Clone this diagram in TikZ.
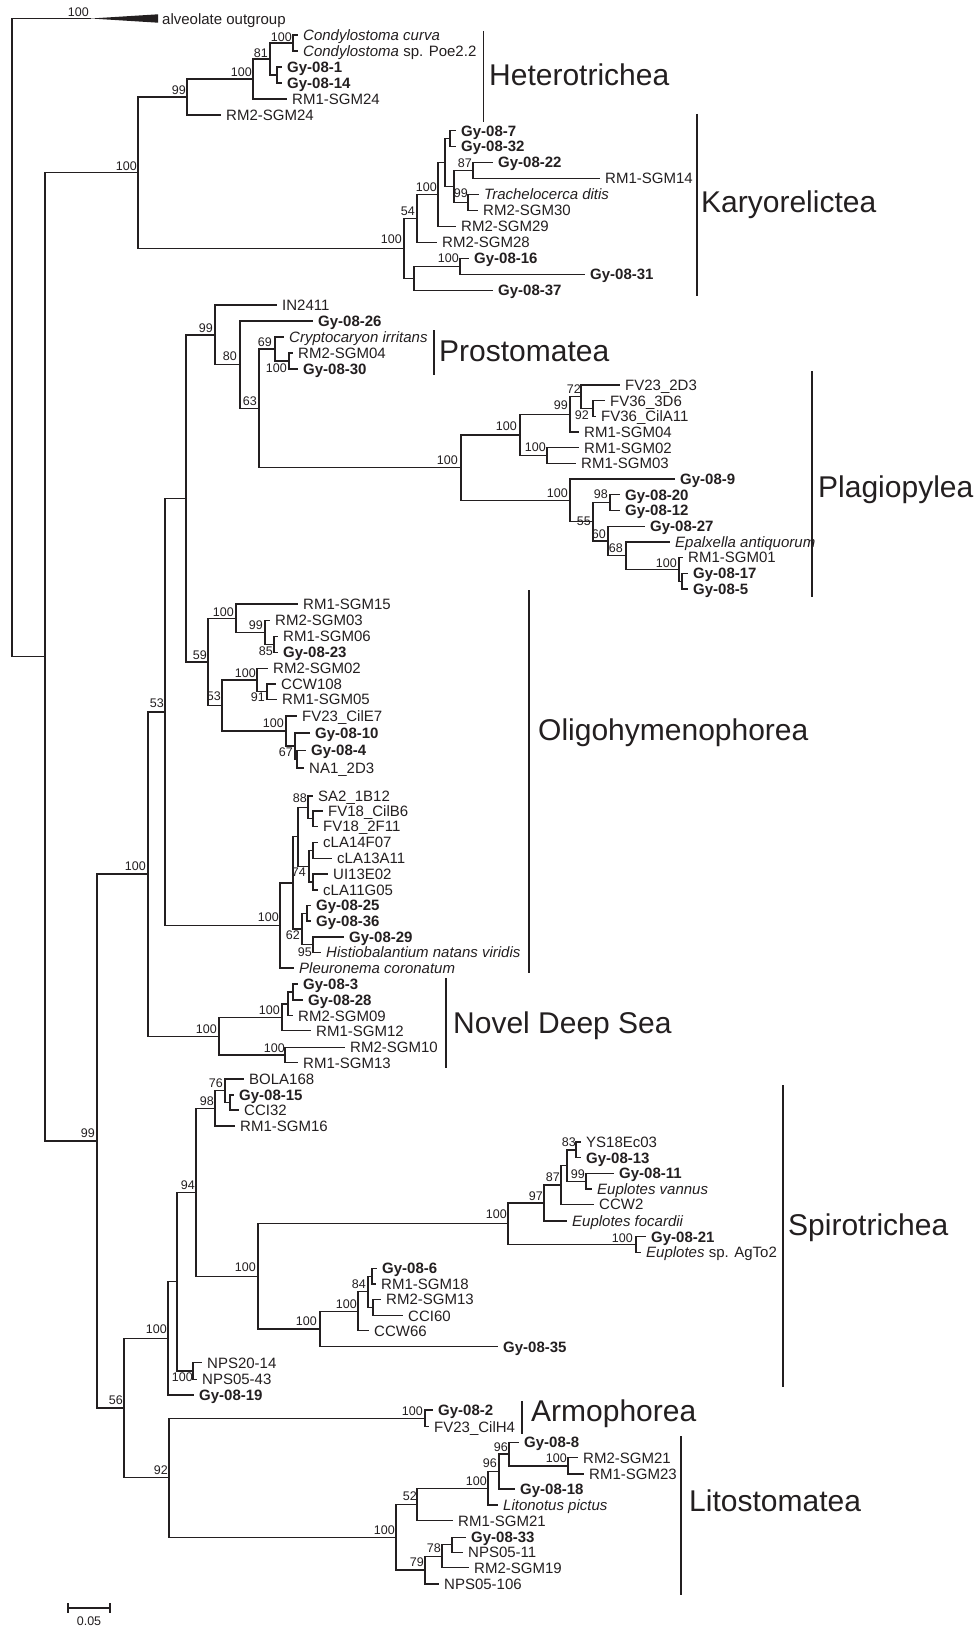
\documentclass[tikz,border=0pt]{standalone}
\usepackage{fontspec}
\setmainfont{Liberation Sans}
\definecolor{ink}{HTML}{231F20}
\newcommand\tleaf[5]{\node[leaf,#4] (#1) at ({#2-5},#3) {#5};}
\newcommand\tnd[3]{\coordinate (#1) at (#2,#3);}
\newcommand\tkids[3]{\draw[br] (#1) |- (#2); \draw[br] (#1) |- (#3);}
\newcommand\tbs[4]{\node[bs] (#1) at (#2,#3) {#4};}
\newcommand\tclade[7]{\coordinate (#1a) at (#2,#3); \coordinate (#1b) at (#2,#4);
  \draw[bar] (#1a) -- (#1b); \node[clade] (#1t) at (#5,#6) {#7};}
\begin{document}
\begin{tikzpicture}[x=1pt,y=-1pt,
  br/.style={draw=ink,line width=1.3pt},
  bar/.style={draw=ink,line width=1.8pt},
  leaf/.style={anchor=west,inner xsep=5pt,inner ysep=0pt,text height=10.7pt,text depth=0pt,text=ink,font=\fontsize{15}{17}\selectfont},
  gy/.style={font=\fontsize{15}{17}\selectfont\bfseries},
  it/.style={font=\fontsize{15}{17}\selectfont\itshape},
  pl/.style={},
  bs/.style={anchor=east,inner sep=0pt,text height=9pt,text depth=0pt,text=ink,font=\fontsize{12.5}{14}\selectfont},
  clade/.style={anchor=base west,inner sep=0pt,text=ink,font=\fontsize{30}{32}\selectfont}]
\useasboundingbox (0,0) rectangle (977,1627);
\fill[white] (0,0) rectangle (977,1627);

% ---------- leaves ----------
\node[leaf,pl] (alv) at (157,19) {alveolate outgroup};
\tleaf{cc}{303}{35}{it}{Condylostoma curva}
\tleaf{cp}{303}{51}{pl}{\textit{Condylostoma} sp. Poe2.2}
\tleaf{g1}{287}{67}{gy}{Gy-08-1}
\tleaf{g14}{287}{83}{gy}{Gy-08-14}
\tleaf{h24}{292}{99}{pl}{RM1-SGM24}
\tleaf{h24b}{226}{115}{pl}{RM2-SGM24}
\tleaf{g7}{461}{130.7}{gy}{Gy-08-7}
\tleaf{g32}{461}{146.6}{gy}{Gy-08-32}
\tleaf{g22}{498}{162.6}{gy}{Gy-08-22}
\tleaf{k14}{605}{178.5}{pl}{RM1-SGM14}
\tleaf{td}{484}{194.5}{it}{Trachelocerca ditis}
\tleaf{k30}{483}{210.4}{pl}{RM2-SGM30}
\tleaf{k29}{461}{226.4}{pl}{RM2-SGM29}
\tleaf{k28}{442}{242.3}{pl}{RM2-SGM28}
\tleaf{g16}{474}{258.3}{gy}{Gy-08-16}
\tleaf{g31}{590}{274.2}{gy}{Gy-08-31}
\tleaf{g37}{498}{290.2}{gy}{Gy-08-37}
\tleaf{in}{282}{305}{pl}{IN2411}
\tleaf{g26}{318}{321}{gy}{Gy-08-26}
\tleaf{ci}{289}{337}{it}{Cryptocaryon irritans}
\tleaf{p04}{298}{353}{pl}{RM2-SGM04}
\tleaf{g30}{303}{369}{gy}{Gy-08-30}
\tleaf{f2d3}{625}{385}{pl}{FV23\_2D3}
\tleaf{f3d6}{610}{400.7}{pl}{FV36\_3D6}
\tleaf{fa11}{601}{416.4}{pl}{FV36\_CilA11}
\tleaf{s04}{584}{432.1}{pl}{RM1-SGM04}
\tleaf{s02}{584}{447.8}{pl}{RM1-SGM02}
\tleaf{s03}{581}{463.5}{pl}{RM1-SGM03}
\tleaf{g9}{680}{479.1}{gy}{Gy-08-9}
\tleaf{g20}{625}{494.8}{gy}{Gy-08-20}
\tleaf{g12}{625}{510.5}{gy}{Gy-08-12}
\tleaf{g27}{650}{526.2}{gy}{Gy-08-27}
\tleaf{ea}{675}{541.9}{it}{Epalxella antiquorum}
\tleaf{s01}{688}{557.6}{pl}{RM1-SGM01}
\tleaf{g17}{693}{573.3}{gy}{Gy-08-17}
\tleaf{g5}{693}{589}{gy}{Gy-08-5}
\tleaf{s15}{303}{604}{pl}{RM1-SGM15}
\tleaf{r03}{275}{620.5}{pl}{RM2-SGM03}
\tleaf{s06}{283}{636.5}{pl}{RM1-SGM06}
\tleaf{g23}{283}{652.5}{gy}{Gy-08-23}
\tleaf{r02}{273}{668.5}{pl}{RM2-SGM02}
\tleaf{c108}{281}{684}{pl}{CCW108}
\tleaf{s05}{282}{699.5}{pl}{RM1-SGM05}
\tleaf{ce7}{302}{716}{pl}{FV23\_CilE7}
\tleaf{g10}{315}{733}{gy}{Gy-08-10}
\tleaf{g4}{311}{750.5}{gy}{Gy-08-4}
\tleaf{na1}{309}{768}{pl}{NA1\_2D3}
\tleaf{sa2}{318}{796}{pl}{SA2\_1B12}
\tleaf{fb6}{328}{811}{pl}{FV18\_CilB6}
\tleaf{f2f}{323}{826.5}{pl}{FV18\_2F11}
\tleaf{la14}{323}{842.5}{pl}{cLA14F07}
\tleaf{la13}{337}{858.5}{pl}{cLA13A11}
\tleaf{ui}{333}{874}{pl}{UI13E02}
\tleaf{la11}{323}{890}{pl}{cLA11G05}
\tleaf{g25}{316}{905.5}{gy}{Gy-08-25}
\tleaf{g36}{316}{921}{gy}{Gy-08-36}
\tleaf{g29}{349}{937}{gy}{Gy-08-29}
\tleaf{hn}{326}{952.5}{it}{Histiobalantium natans viridis}
\tleaf{pc}{299}{968}{it}{Pleuronema coronatum}
\tleaf{g3}{303}{984}{gy}{Gy-08-3}
\tleaf{g28}{308}{1000}{gy}{Gy-08-28}
\tleaf{r09}{298}{1015.7}{pl}{RM2-SGM09}
\tleaf{s12}{316}{1030.7}{pl}{RM1-SGM12}
\tleaf{r10}{350}{1047.3}{pl}{RM2-SGM10}
\tleaf{s13}{303}{1062.7}{pl}{RM1-SGM13}
\tleaf{bola}{249}{1079}{pl}{BOLA168}
\tleaf{g15}{239}{1095}{gy}{Gy-08-15}
\tleaf{cci32}{244}{1110}{pl}{CCI32}
\tleaf{s16}{240}{1126}{pl}{RM1-SGM16}
\tleaf{ys}{586}{1142}{pl}{YS18Ec03}
\tleaf{g13}{586}{1157.7}{gy}{Gy-08-13}
\tleaf{g11}{619}{1173.3}{gy}{Gy-08-11}
\tleaf{ev}{597}{1189}{it}{Euplotes vannus}
\tleaf{ccw2}{599}{1204.3}{pl}{CCW2}
\tleaf{ef}{572}{1221}{it}{Euplotes focardii}
\tleaf{g21}{651}{1236.7}{gy}{Gy-08-21}
\tleaf{eag}{646}{1252.3}{pl}{\textit{Euplotes} sp. AgTo2}
\tleaf{g6}{382}{1268.3}{gy}{Gy-08-6}
\tleaf{s18}{381}{1284}{pl}{RM1-SGM18}
\tleaf{r13}{386}{1299.3}{pl}{RM2-SGM13}
\tleaf{cci60}{408}{1315.7}{pl}{CCI60}
\tleaf{ccw66}{374}{1330.7}{pl}{CCW66}
\tleaf{g35}{503}{1346.7}{gy}{Gy-08-35}
\tleaf{npsa}{207}{1362.7}{pl}{NPS20-14}
\tleaf{npsb}{202}{1379.3}{pl}{NPS05-43}
\tleaf{g19}{199}{1395}{gy}{Gy-08-19}
\tleaf{g2}{438}{1410}{gy}{Gy-08-2}
\tleaf{h4}{434}{1426.7}{pl}{FV23\_CilH4}
\tleaf{g8}{524}{1442.3}{gy}{Gy-08-8}
\tleaf{r21}{583}{1457.7}{pl}{RM2-SGM21}
\tleaf{s23}{589}{1474}{pl}{RM1-SGM23}
\tleaf{g18}{520}{1489}{gy}{Gy-08-18}
\tleaf{lp}{503}{1505}{it}{Litonotus pictus}
\tleaf{s21}{458}{1520.7}{pl}{RM1-SGM21}
\tleaf{g33}{471}{1537.3}{gy}{Gy-08-33}
\tleaf{n11}{468}{1552.3}{pl}{NPS05-11}
\tleaf{r19}{474}{1567.7}{pl}{RM2-SGM19}
\tleaf{n106}{444}{1584}{pl}{NPS05-106}

% ---------- internal nodes ----------
\tnd{root}{12}{337.9}
\tnd{og}{91}{18.5}
\tnd{nT45}{45}{656.8}
\tnd{nHK}{138}{172.6}
\tnd{nH99}{187}{97}
\tnd{nH100}{253}{79}
\tnd{nH81}{270}{59}
\tnd{nHc}{293}{43}
\tnd{nHg}{277}{75}
\tnd{nK100}{404}{248.3}
\tnd{nK54}{417}{218.4}
\tnd{nK100k}{438}{194.5}
\tnd{nKX}{445}{162.6}
\tnd{nK77}{450}{138.65}
\tnd{nKY}{454}{186.5}
\tnd{nK87}{473}{170.55}
\tnd{nK99}{468}{202.45}
\tnd{nKL}{414}{278.2}
\tnd{nK16}{460}{266.25}
\tnd{nT99}{97}{1141}
\tnd{nT100}{148}{874}
\tnd{nT53}{165}{711.9}
\tnd{nC}{186}{498.4}
\tnd{nP99}{215}{334.85}
\tnd{nP80}{240}{364.7}
\tnd{nP63}{259}{408.4}
\tnd{nP69}{275}{349}
\tnd{nP30}{289}{361}
\tnd{nPl100}{461}{467.75}
\tnd{nF100a}{520}{435.05}
\tnd{nF99}{570}{414.45}
\tnd{nF72}{581}{396.8}
\tnd{nF92}{593}{408.55}
\tnd{nF100c}{547}{455.65}
\tnd{nG100b}{570}{500.45}
\tnd{nG55}{593}{521.8}
\tnd{nG98}{610}{502.65}
\tnd{nG60}{608}{540.9}
\tnd{nG68}{626}{555.65}
\tnd{nG100d}{679}{569.4}
\tnd{nG175}{682}{581.15}
\tnd{nO59}{208}{661.9}
\tnd{nO100a}{236}{618.25}
\tnd{nO99}{265}{632.5}
\tnd{nO85}{274}{644.5}
\tnd{nO53}{222}{705.6}
\tnd{nO100e}{257}{680.1}
\tnd{nO91}{267}{691.75}
\tnd{nO100f}{286}{731.05}
\tnd{nO10}{295}{746.1}
\tnd{nO67}{297}{759.25}
\tnd{nO100}{280}{925.45}
\tnd{nO293}{293}{882.9}
\tnd{nO298}{298}{836.8}
\tnd{nO88}{308}{807.4}
\tnd{nFV18}{313}{818.75}
\tnd{nO74}{309}{866.25}
\tnd{nLA1}{313}{850.5}
\tnd{nLA2}{313}{882}
\tnd{nO62}{302}{929}
\tnd{nO2536}{307}{913.25}
\tnd{nO95}{313}{944.75}
\tnd{nN100}{219}{1036.15}
\tnd{nN100a}{282}{1017.3}
\tnd{nN09}{288}{1003.85}
\tnd{nN328}{293}{992}
\tnd{nN100b}{285}{1055}
\tnd{nL56}{124}{1408.1}
\tnd{nS100s}{168}{1338.35}
\tnd{nSX}{177}{1281.7}
\tnd{nNPS}{193}{1371}
\tnd{nS94}{196}{1192.4}
\tnd{nS98}{215}{1108.4}
\tnd{nS76}{225}{1090.75}
\tnd{nS1532}{230}{1102.5}
\tnd{nS100sp}{258}{1276.35}
\tnd{nE100}{508}{1223.7}
\tnd{nE97}{544}{1202.95}
\tnd{nE87}{561}{1184.9}
\tnd{nE567}{567}{1165.5}
\tnd{nE83}{576}{1149.85}
\tnd{nE99}{586}{1181.15}
\tnd{nE21}{636}{1244.5}
\tnd{nS100c}{320}{1329}
\tnd{nS100d}{358}{1311.25}
\tnd{nS84}{368}{1291.8}
\tnd{nS6}{372}{1276.15}
\tnd{nS13}{373}{1307.5}
\tnd{nL92}{169}{1477.8}
\tnd{nA100}{425}{1418.35}
\tnd{nL100}{396}{1537.3}
\tnd{nL52}{417}{1504.5}
\tnd{nL100i}{488}{1488.3}
\tnd{nL96a}{499}{1471.55}
\tnd{nL96b}{509}{1454.1}
\tnd{nR100}{568}{1465.85}
\tnd{nL79}{425}{1570.1}
\tnd{nL78}{442}{1556.25}
\tnd{nL33}{452}{1544.8}

% ---------- branches ----------
\tkids{root}{og}{nT45}
\coordinate (ogA) at (158,14.3); \coordinate (ogB) at (158,22.7);
\fill[ink] (og) -- (ogA) -- (ogB) -- cycle;
\tkids{nT45}{nHK}{nT99}
\tkids{nHK}{nH99}{nK100}
\tkids{nH99}{nH100}{h24b.west}
\tkids{nH100}{nH81}{h24.west}
\tkids{nH81}{nHc}{nHg}
\tkids{nHc}{cc.west}{cp.west}
\tkids{nHg}{g1.west}{g14.west}
\tkids{nK100}{nK54}{nKL}
\tkids{nK54}{nK100k}{k28.west}
\tkids{nK100k}{nKX}{k29.west}
\tkids{nKX}{nK77}{nKY}
\tkids{nK77}{g7.west}{g32.west}
\tkids{nKY}{nK87}{nK99}
\tkids{nK87}{g22.west}{k14.west}
\tkids{nK99}{td.west}{k30.west}
\tkids{nKL}{nK16}{g37.west}
\tkids{nK16}{g16.west}{g31.west}
\tkids{nT99}{nT100}{nL56}
\tkids{nT100}{nT53}{nN100}
\tkids{nT53}{nC}{nO100}
\tkids{nC}{nP99}{nO59}
\tkids{nP99}{in.west}{nP80}
\tkids{nP80}{g26.west}{nP63}
\tkids{nP63}{nP69}{nPl100}
\tkids{nP69}{ci.west}{nP30}
\tkids{nP30}{p04.west}{g30.west}
\tkids{nPl100}{nF100a}{nG100b}
\tkids{nF100a}{nF99}{nF100c}
\tkids{nF99}{nF72}{s04.west}
\tkids{nF72}{f2d3.west}{nF92}
\tkids{nF92}{f3d6.west}{fa11.west}
\tkids{nF100c}{s02.west}{s03.west}
\tkids{nG100b}{g9.west}{nG55}
\tkids{nG55}{nG98}{nG60}
\tkids{nG98}{g20.west}{g12.west}
\tkids{nG60}{g27.west}{nG68}
\tkids{nG68}{ea.west}{nG100d}
\tkids{nG100d}{s01.west}{nG175}
\tkids{nG175}{g17.west}{g5.west}
\tkids{nO59}{nO100a}{nO53}
\tkids{nO100a}{s15.west}{nO99}
\tkids{nO99}{r03.west}{nO85}
\tkids{nO85}{s06.west}{g23.west}
\tkids{nO53}{nO100e}{nO100f}
\tkids{nO100e}{r02.west}{nO91}
\tkids{nO91}{c108.west}{s05.west}
\tkids{nO100f}{ce7.west}{nO10}
\tkids{nO10}{g10.west}{nO67}
\tkids{nO67}{g4.west}{na1.west}
\tkids{nO100}{nO293}{pc.west}
\tkids{nO293}{nO298}{nO62}
\tkids{nO298}{nO88}{nO74}
\tkids{nO88}{sa2.west}{nFV18}
\tkids{nFV18}{fb6.west}{f2f.west}
\tkids{nO74}{nLA1}{nLA2}
\tkids{nLA1}{la14.west}{la13.west}
\tkids{nLA2}{ui.west}{la11.west}
\tkids{nO62}{nO2536}{nO95}
\tkids{nO2536}{g25.west}{g36.west}
\tkids{nO95}{g29.west}{hn.west}
\tkids{nN100}{nN100a}{nN100b}
\tkids{nN100a}{nN09}{s12.west}
\tkids{nN09}{nN328}{r09.west}
\tkids{nN328}{g3.west}{g28.west}
\tkids{nN100b}{r10.west}{s13.west}
\tkids{nL56}{nS100s}{nL92}
\tkids{nS100s}{nSX}{g19.west}
\tkids{nSX}{nS94}{nNPS}
\tkids{nNPS}{npsa.west}{npsb.west}
\tkids{nS94}{nS98}{nS100sp}
\tkids{nS98}{nS76}{s16.west}
\tkids{nS76}{bola.west}{nS1532}
\tkids{nS1532}{g15.west}{cci32.west}
\tkids{nS100sp}{nE100}{nS100c}
\tkids{nE100}{nE97}{nE21}
\tkids{nE97}{nE87}{ef.west}
\tkids{nE87}{nE567}{ccw2.west}
\tkids{nE567}{nE83}{nE99}
\tkids{nE83}{ys.west}{g13.west}
\tkids{nE99}{g11.west}{ev.west}
\tkids{nE21}{g21.west}{eag.west}
\tkids{nS100c}{nS100d}{g35.west}
\tkids{nS100d}{nS84}{ccw66.west}
\tkids{nS84}{nS6}{nS13}
\tkids{nS6}{g6.west}{s18.west}
\tkids{nS13}{r13.west}{cci60.west}
\tkids{nL92}{nA100}{nL100}
\tkids{nA100}{g2.west}{h4.west}
\tkids{nL100}{nL52}{nL79}
\tkids{nL52}{nL100i}{s21.west}
\tkids{nL100i}{nL96a}{lp.west}
\tkids{nL96a}{nL96b}{g18.west}
\tkids{nL96b}{g8.west}{nR100}
\tkids{nR100}{r21.west}{s23.west}
\tkids{nL79}{nL78}{n106.west}
\tkids{nL78}{nL33}{r19.west}
\tkids{nL33}{g33.west}{n11.west}

% ---------- bootstrap values ----------
\tbs{bog}{89}{12}{100}
\tbs{bHc}{292}{37}{100}
\tbs{bH81}{268}{53}{81}
\tbs{bH100}{252}{72}{100}
\tbs{bH99}{186}{90}{99}
\tbs{bHK}{137}{166}{100}
\tbs{bK100}{402}{239}{100}
\tbs{bK54}{415}{211}{54}
\tbs{bK100k}{437}{187}{100}
\tbs{bK87}{472}{163}{87}
\tbs{bK99}{468}{193}{99}
\tbs{bK16}{459}{258}{100}
\tbs{bP99}{213}{328}{99}
\tbs{bP80}{237}{356}{80}
\tbs{bP63}{257}{401}{63}
\tbs{bP69}{272}{342}{69}
\tbs{bP30}{287}{368}{100}
\tbs{bPl}{458}{460}{100}
\tbs{bF100a}{517}{426}{100}
\tbs{bF99}{568}{405}{99}
\tbs{bF72}{581}{389}{72}
\tbs{bF92}{589}{415}{92}
\tbs{bF100c}{546}{447}{100}
\tbs{bG100b}{568}{493}{100}
\tbs{bG98}{608}{494}{98}
\tbs{bG55}{591}{521}{55}
\tbs{bG60}{606}{534}{60}
\tbs{bG68}{623}{548}{68}
\tbs{bG100d}{677}{563}{100}
\tbs{bO59}{207}{655}{59}
\tbs{bO100a}{234}{612}{100}
\tbs{bO99}{263}{625}{99}
\tbs{bO85}{273}{651}{85}
\tbs{bO53}{221}{696}{53}
\tbs{bO100e}{256}{673}{100}
\tbs{bO91}{265}{697}{91}
\tbs{bO100f}{284}{723}{100}
\tbs{bO67}{293}{752}{67}
\tbs{bO88}{307}{798}{88}
\tbs{bO74}{306}{872}{74}
\tbs{bO100}{279}{917}{100}
\tbs{bO62}{300}{935}{62}
\tbs{bO95}{312}{952}{95}
\tbs{bT53}{164}{703}{53}
\tbs{bT100}{146}{866}{100}
\tbs{bT99}{95}{1133}{99}
\tbs{bN100}{217}{1029}{100}
\tbs{bN100a}{280}{1010}{100}
\tbs{bN100b}{285}{1048}{100}
\tbs{bS76}{223}{1083}{76}
\tbs{bS98}{214}{1101}{98}
\tbs{bS94}{195}{1185}{94}
\tbs{bS100sp}{256}{1267}{100}
\tbs{bE100}{507}{1214}{100}
\tbs{bE97}{543}{1196}{97}
\tbs{bE87}{560}{1177}{87}
\tbs{bE83}{576}{1142}{83}
\tbs{bE99}{585}{1174}{99}
\tbs{bE21}{633}{1238}{100}
\tbs{bS100c}{317}{1321}{100}
\tbs{bS100d}{357}{1304}{100}
\tbs{bS84}{366}{1284}{84}
\tbs{bNPS}{193}{1377}{100}
\tbs{bS100s}{167}{1329}{100}
\tbs{bL56}{123}{1400}{56}
\tbs{bL92}{168}{1470}{92}
\tbs{bA100}{423}{1411}{100}
\tbs{bL100}{395}{1530}{100}
\tbs{bL52}{417}{1496}{52}
\tbs{bL100i}{487}{1481}{100}
\tbs{bL96a}{497}{1463}{96}
\tbs{bL96b}{508}{1447}{96}
\tbs{bR100}{567}{1458}{100}
\tbs{bL79}{424}{1562}{79}
\tbs{bL78}{441}{1548}{78}

% ---------- clade bars ----------
\tclade{het}{483.5}{31}{122}{489}{86}{Heterotrichea}
\tclade{kar}{697}{114}{296}{701}{212}{Karyorelictea}
\tclade{pro}{434}{330}{375}{439}{361}{Prostomatea}
\tclade{pla}{812}{371}{597}{818}{497}{Plagiopylea}
\tclade{oli}{529}{590}{973}{538}{740}{Oligohymenophorea}
\tclade{nds}{446}{978}{1068}{453}{1033}{Novel Deep Sea}
\tclade{spi}{783}{1085}{1387}{788}{1235}{Spirotrichea}
\tclade{arm}{522}{1401}{1434}{531}{1421}{Armophorea}
\tclade{lit}{681}{1436}{1595}{689}{1511}{Litostomatea}

% ---------- scale bar ----------
\coordinate (sbL) at (68,1608); \coordinate (sbR) at (110,1608);
\coordinate (sbLt) at (68,1603); \coordinate (sbLb) at (68,1613);
\coordinate (sbRt) at (110,1603); \coordinate (sbRb) at (110,1613);
\draw[br] (sbL) -- (sbR);
\draw[br] (sbLt) -- (sbLb);
\draw[br] (sbRt) -- (sbRb);
\node[bs,anchor=center] (sbt) at (89,1621) {0.05};
\end{tikzpicture}
\end{document}
